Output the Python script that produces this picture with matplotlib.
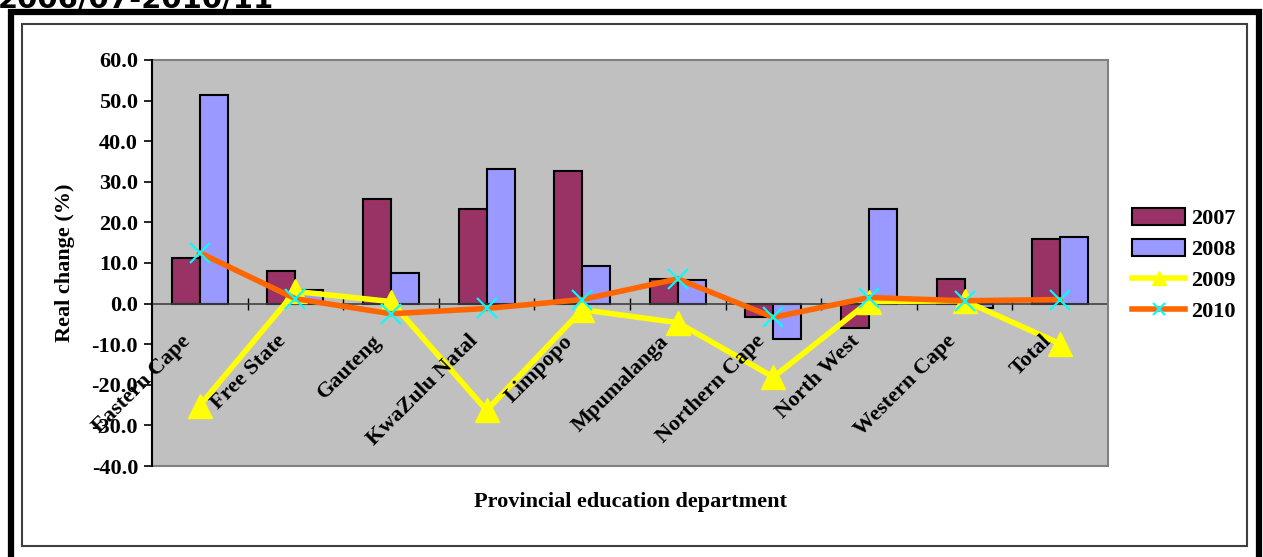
import matplotlib.pyplot as plt
import numpy as np
from matplotlib.patches import Rectangle

# ---- data -------------------------------------------------------------
departments = ["Eastern Cape", "Free State", "Gauteng", "KwaZulu Natal", "Limpopo",
               "Mpumalanga", "Northern Cape", "North West", "Western Cape", "Total"]
chg_2007 = [11.3, 8.1, 25.8, 23.3, 32.7, 6.1, -3.2, -6.1, 6.1, 16.0]
chg_2008 = [51.4, 3.4, 7.6, 33.2, 9.3, 5.7, -8.8, 23.3, -1.0, 16.5]
chg_2009 = [-25.1, 3.0, 0.5, -26.3, -1.5, -4.7, -18.1, 0.5, 0.7, -9.9]
chg_2010 = [12.5, 1.2, -2.5, -1.2, 1.0, 6.1, -3.4, 1.5, 0.7, 1.0]
yticks = np.arange(-40, 61, 10)

serif = "Liberation Serif"
fs = 16

fig = plt.figure(figsize=(12.63, 5.57), dpi=100)

# heading (cut off at the top edge) and the outer frames
fig.text(-0.002, 1 - 7 / 557, "2006/07-2010/11", fontsize=21, fontweight="bold",
         family="DejaVu Sans", va="baseline", ha="left")
fig.patches.append(Rectangle((11 / 1263, -0.05), (1259 - 11) / 1263, 1.05 - 12 / 557,
                             transform=fig.transFigure, fill=False, edgecolor="black",
                             linewidth=4.5))
fig.patches.append(Rectangle((22 / 1263, 1 - 546 / 557), (1247 - 22) / 1263, (546 - 24) / 557,
                             transform=fig.transFigure, fill=False, edgecolor="#404040",
                             linewidth=1.5))

ax = fig.add_axes([152 / 1263, 1 - 466 / 557, (1108 - 152) / 1263, (466 - 60) / 557])
ax.set_facecolor("#C0C0C0")

x = np.arange(len(departments))
w = 0.293
b07 = ax.bar(x - w / 2, chg_2007, w, color="#993366", edgecolor="black", linewidth=1.5,
             label="2007", zorder=2)
b08 = ax.bar(x + w / 2, chg_2008, w, color="#9999FF", edgecolor="black", linewidth=1.5,
             label="2008", zorder=2)
l09, = ax.plot(x, chg_2009, color="#FFFF00", linewidth=4, marker="^", markersize=17,
               markerfacecolor="#FFFF00", markeredgecolor="#FFFF00", label="2009", zorder=3)
l10, = ax.plot(x, chg_2010, color="#FF6600", linewidth=4, marker="x", markersize=15,
               markeredgecolor="#00FFFF", markeredgewidth=1.5, label="2010", zorder=4)

ax.set_xlim(-0.5, len(departments) - 0.5)
ax.set_ylim(-40, 60)
ax.set_yticks(yticks)
ax.set_yticklabels([f"{v:.1f}" for v in yticks], family=serif, fontsize=fs,
                   fontweight="bold")
ax.tick_params(axis="y", direction="out", length=6, width=1.2, pad=4)

# category axis sits on the zero line with boundary tick marks
for side in ["top", "right"]:
    ax.spines[side].set_visible(False)
ax.spines["bottom"].set_position(("data", 0))
ax.spines["bottom"].set_color("#404040")
ax.spines["bottom"].set_linewidth(1.2)
ax.spines["left"].set_linewidth(1.5)
ax.spines["left"].set_zorder(6)
ax.set_xticks(x)
ax.set_xticklabels([])
ax.tick_params(axis="x", which="major", length=0)
ax.set_xticks(x[:-1] + 0.5, minor=True)
ax.tick_params(axis="x", which="minor", direction="inout", length=9, width=1.0,
               color="black")
ax.add_patch(Rectangle((0, 0), 1, 1, transform=ax.transAxes, fill=False,
                       edgecolor="#808080", linewidth=1.5, zorder=5, clip_on=False))

for i, name in enumerate(departments):
    ax.text(i - 0.2, -6.8, name, rotation=45, rotation_mode="anchor", ha="right",
            va="top", family=serif, fontsize=fs, fontweight="bold", zorder=6)

ax.set_ylabel("Real change (%)", family=serif, fontsize=fs, fontweight="bold",
              labelpad=12)
fig.text((152 + 1108) / 2 / 1263, 1 - 502 / 557, "Provincial education department",
         family=serif, fontsize=fs, fontweight="bold", ha="center", va="center")

fig.legend(handles=[b07, b08, l09, l10], loc="center left",
           bbox_to_anchor=(1112 / 1263, 1 - 265 / 557), frameon=False,
           prop={"family": serif, "size": fs, "weight": "bold"}, handlelength=2.4,
           handleheight=0.8, handletextpad=0.25, labelspacing=0.45, markerscale=0.6)

fig.savefig("out.png", dpi=100)
